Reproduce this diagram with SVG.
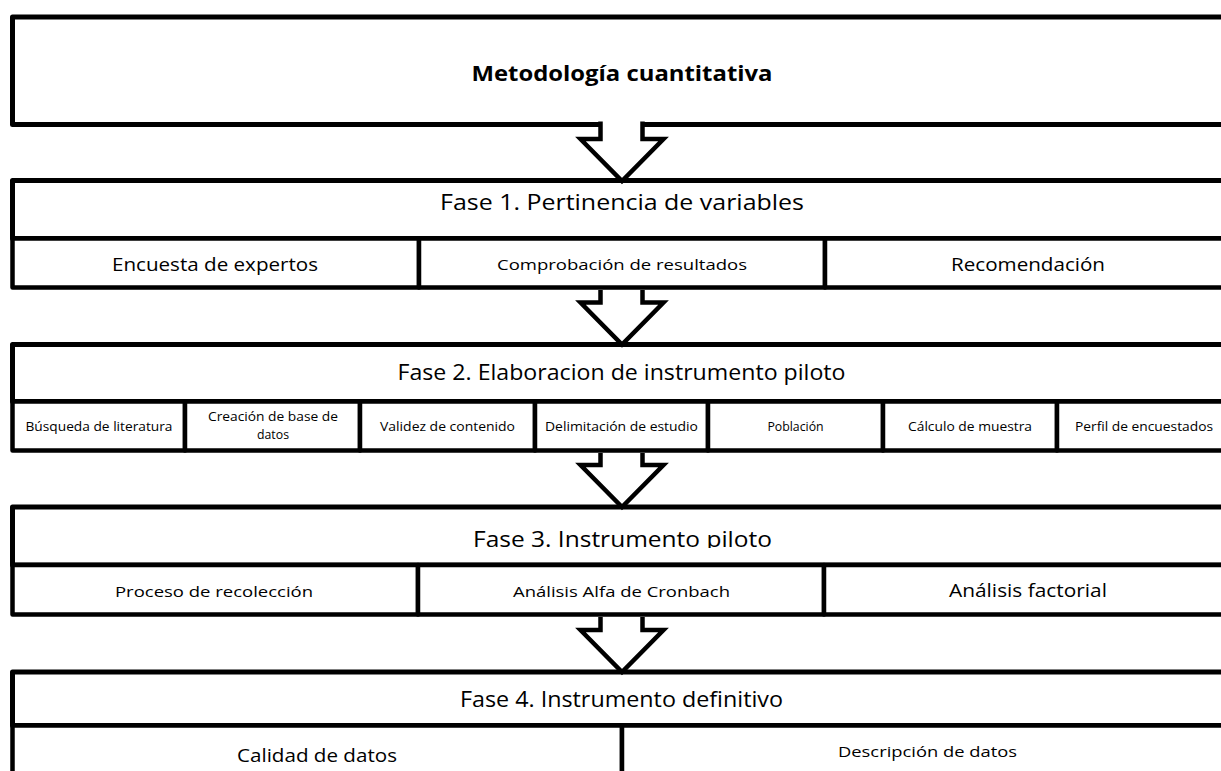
<svg xmlns="http://www.w3.org/2000/svg" width="1221" height="771" viewBox="0 0 1221 771">
<style>
.box{fill:#fff;stroke:#000;stroke-width:5;stroke-linejoin:round}
.cell{fill:#fff;stroke:#000;stroke-width:4.5;stroke-linejoin:round}
.arrow{fill:#fff;stroke:#000;stroke-width:4.5;stroke-linejoin:miter}
text{font-family:"Open Sans",Lato,"Liberation Sans",sans-serif;fill:#000;text-anchor:middle;font-variant-ligatures:none}
.h0{font-size:21px;font-weight:bold}
.h1{font-size:21px}
.m{font-size:17.5px}
.s{font-size:15px}
.xs{font-size:12.3px}
</style>
<defs>
<clipPath id="clip3"><rect x="0" y="509" width="1221" height="39"/></clipPath>
</defs>
<rect width="1221" height="771" fill="#fff"/>

<g id="node-metodologia">
<rect class="box" x="12.5" y="17" width="1240" height="107.5"/>
<text class="h0" x="622" y="81" textLength="301" lengthAdjust="spacingAndGlyphs">Metodología cuantitativa</text>
</g>

<g id="node-fase1">
<rect class="box" x="12.5" y="180.5" width="1240" height="58"/>
<text class="h1" x="622" y="210" textLength="364" lengthAdjust="spacingAndGlyphs">Fase 1. Pertinencia de variables</text>
<rect class="cell" x="12.5" y="238.5" width="406.5" height="49"/>
<rect class="cell" x="419" y="238.5" width="406" height="49"/>
<rect class="cell" x="825" y="238.5" width="427" height="49"/>
<text class="m" x="215" y="271" textLength="206" lengthAdjust="spacingAndGlyphs">Encuesta de expertos</text>
<text class="s" x="622" y="270" textLength="250" lengthAdjust="spacingAndGlyphs">Comprobación de resultados</text>
<text class="m" x="1028" y="271" textLength="154" lengthAdjust="spacingAndGlyphs">Recomendación</text>
</g>

<g id="node-fase2">
<rect class="box" x="12.5" y="344.5" width="1240" height="57"/>
<text class="h1" x="621.5" y="380" textLength="448" lengthAdjust="spacingAndGlyphs">Fase 2. Elaboracion de instrumento piloto</text>
<rect class="cell" x="12.5" y="401.5" width="172.5" height="49"/>
<rect class="cell" x="185" y="401.5" width="175" height="49"/>
<rect class="cell" x="360" y="401.5" width="175" height="49"/>
<rect class="cell" x="535" y="401.5" width="173" height="49"/>
<rect class="cell" x="708" y="401.5" width="175" height="49"/>
<rect class="cell" x="883" y="401.5" width="174" height="49"/>
<rect class="cell" x="1057" y="401.5" width="195" height="49"/>
<text class="xs" x="99" y="431" textLength="147" lengthAdjust="spacingAndGlyphs">Búsqueda de literatura</text>
<text class="xs" x="273" y="421" textLength="130" lengthAdjust="spacingAndGlyphs">Creación de base de</text>
<text class="xs" x="273" y="439">datos</text>
<text class="xs" x="447.5" y="431" textLength="135" lengthAdjust="spacingAndGlyphs">Validez de contenido</text>
<text class="xs" x="621.5" y="431" textLength="153" lengthAdjust="spacingAndGlyphs">Delimitación de estudio</text>
<text class="xs" x="795.5" y="431">Población</text>
<text class="xs" x="970" y="431" textLength="124" lengthAdjust="spacingAndGlyphs">Cálculo de muestra</text>
<text class="xs" x="1144" y="431" textLength="138" lengthAdjust="spacingAndGlyphs">Perfil de encuestados</text>
</g>

<g id="node-fase3">
<rect class="box" x="12.5" y="507" width="1240" height="58"/>
<text class="h1" x="622.5" y="547" textLength="299" lengthAdjust="spacingAndGlyphs" clip-path="url(#clip3)">Fase 3. Instrumento piloto</text>
<rect class="cell" x="12.5" y="565" width="405.5" height="49.5"/>
<rect class="cell" x="418" y="565" width="406" height="49.5"/>
<rect class="cell" x="824" y="565" width="428" height="49.5"/>
<text class="s" x="214" y="597" textLength="198" lengthAdjust="spacingAndGlyphs">Proceso de recolección</text>
<text class="s" x="621.5" y="597" textLength="217" lengthAdjust="spacingAndGlyphs">Análisis Alfa de Cronbach</text>
<text class="m" x="1028" y="597" textLength="158" lengthAdjust="spacingAndGlyphs">Análisis factorial</text>
</g>

<g id="node-fase4">
<rect class="box" x="12.5" y="672" width="1240" height="53.5"/>
<text class="h1" x="621.5" y="707" textLength="323" lengthAdjust="spacingAndGlyphs">Fase 4. Instrumento definitivo</text>
<rect class="cell" x="12.5" y="725.5" width="609.5" height="80"/>
<rect class="cell" x="622" y="725.5" width="630" height="80"/>
<text class="m" x="317" y="762" textLength="160" lengthAdjust="spacingAndGlyphs">Calidad de datos</text>
<text class="s" x="927.5" y="757" textLength="179" lengthAdjust="spacingAndGlyphs">Descripción de datos</text>
</g>

<g id="connectors">
<path class="arrow" d="M600.5,121.5 V139 H580.5 L622,181 L663.5,139 H642.5 V121.5"/>
<path class="arrow" d="M600.5,290 V302.5 H580.5 L622,344.5 L663.5,302.5 H642.5 V290"/>
<path class="arrow" d="M600.5,453 V465 H580.5 L622,507 L663.5,465 H642.5 V453"/>
<path class="arrow" d="M600.5,617 V630 H580.5 L622,672 L663.5,630 H642.5 V617"/>
</g>
</svg>
